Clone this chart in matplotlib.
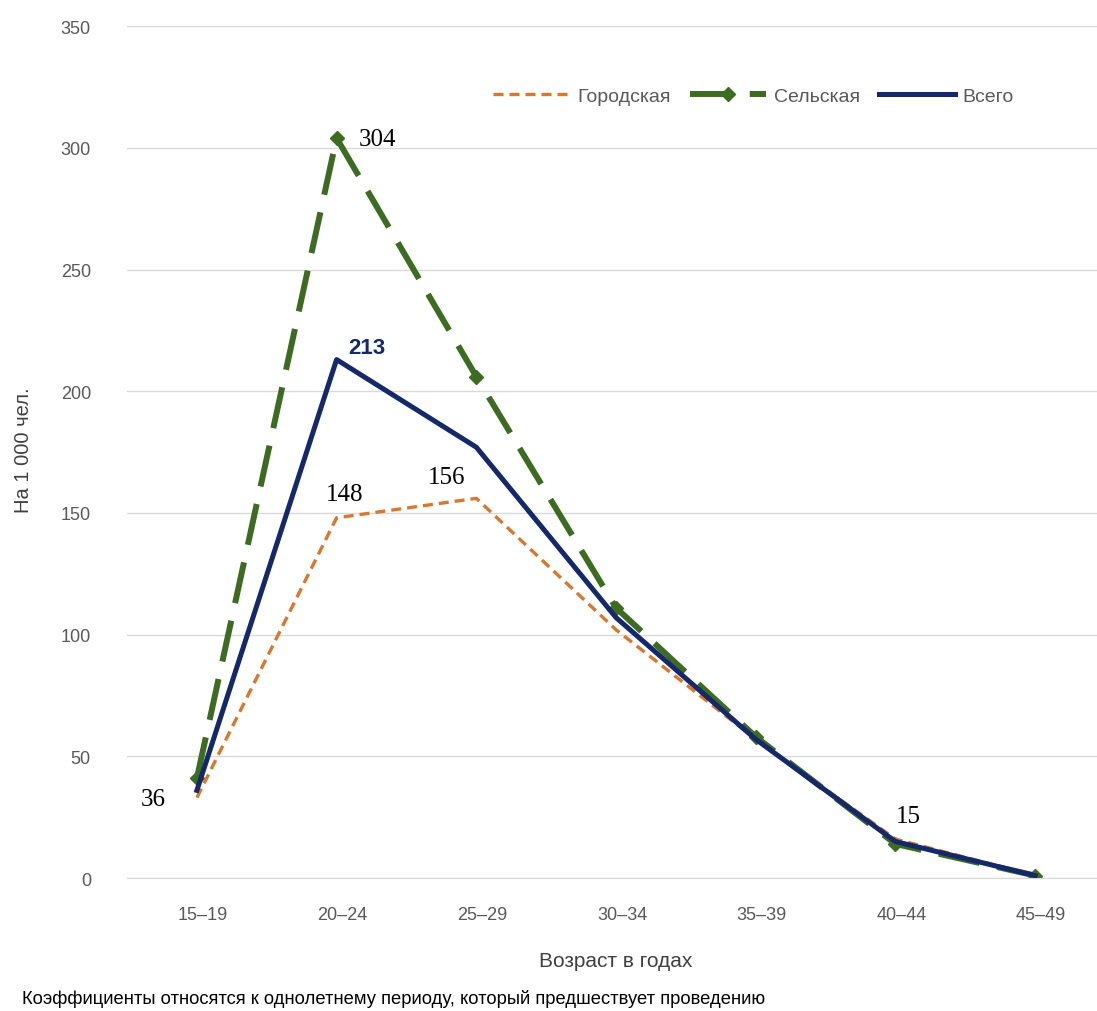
import matplotlib.pyplot as plt
import matplotlib.transforms as mtransforms
import numpy as np

plt.rcParams['font.family'] = ['Liberation Sans', 'DejaVu Sans']

# данные
ages = ['15–19', '20–24', '25–29', '30–34', '35–39', '40–44', '45–49']
urban = [33, 148, 156, 102, 57, 16, 1]
rural = [41, 304, 206, 111, 58, 14, 1]
total = [36, 213, 177, 107, 57, 15, 1]

c_urban = '#D9782D'
c_rural = '#3D6B22'
c_total = '#14286A'

fig = plt.figure(figsize=(10.97, 10.12), dpi=100)
ax = fig.add_axes([0.1158, 0.1314, 0.8915, 0.8418])
x = np.arange(len(ages))

ax.plot(x, urban, color=c_urban, lw=2.4, ls=(0, (3, 1.8)), label='Городская', zorder=3)
ax.plot(x, rural, color=c_rural, lw=4.3, ls=(0, (7, 3)), marker='D', ms=7,
        label='Сельская', zorder=2)
ax.plot(x, total, color=c_total, lw=3.6, label='Всего', zorder=4)

ax.set_xlim(-0.5, 6.5)
ax.set_ylim(0, 350)
ax.set_yticks(range(0, 351, 50))
ax.set_xticks(x)
ax.set_xticklabels(ages)
ax.tick_params(length=0, labelsize=13, colors='#595959')
ax.tick_params(axis='x', pad=20)
ax.tick_params(axis='y', pad=26)
# подписи категорий в оригинале немного сдвинуты вправо
offset = mtransforms.ScaledTranslation(0.06, 0, fig.dpi_scale_trans)
for t in ax.get_xticklabels():
    t.set_transform(t.get_transform() + offset)
ax.grid(axis='y', color='#D9D9D9', lw=1)
ax.set_axisbelow(True)
for s in ['top', 'right', 'left']:
    ax.spines[s].set_visible(False)
ax.spines['bottom'].set_color('#D9D9D9')

fig.text(0.021, 0.555, 'На 1 000 чел.', rotation=90, fontsize=14.5, color='#404040',
         ha='center', va='center')
ax.set_xlabel('Возраст в годах', fontsize=15, color='#404040', labelpad=20)

# подписи значений
lab = dict(fontsize=18, family='Liberation Serif', color='black', ha='center', va='center')
ax.text(-0.31, 32.5, '36', **lab)
ax.text(1.06, 157.8, '148', **lab)
ax.text(1.79, 164.7, '156', **lab)
ax.text(1.29, 303.6, '304', **lab)
ax.text(5.09, 25.5, '15', **lab)
ax.text(1.217, 218.1, '213', ha='center', va='center', fontsize=16,
        color=c_total, fontweight='bold')

fig.legend(loc='center', bbox_to_anchor=(0.687, 0.904), ncol=3, frameon=False,
           fontsize=14, handlelength=3.9, handletextpad=0.4, columnspacing=1.0,
           labelcolor='#595959')

fig.text(0.02, 0.013, 'Коэффициенты относятся к однолетнему периоду, который предшествует проведению',
         fontsize=13.2, color='black', va='center')

fig.savefig('out.png', dpi=100)
